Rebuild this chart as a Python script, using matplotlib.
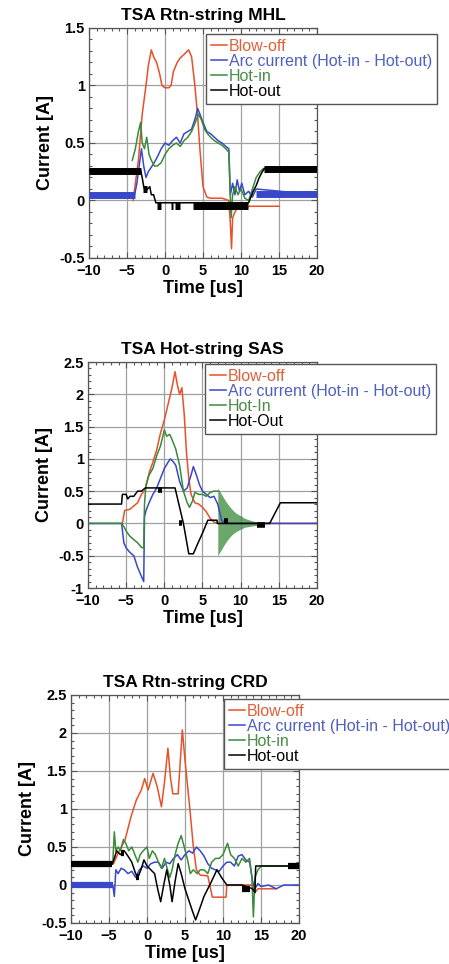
import matplotlib.pyplot as plt
from matplotlib.ticker import MultipleLocator, FuncFormatter

# ---------------- data ----------------
# Panel 1: TSA Rtn-string MHL
mhl_blow_t = [-4.2, -3.5, -3.0, -2.5, -2.2, -1.8, -1.5, -1.1, -0.7, -0.4, 0.0, 0.5, 0.8, 1.1, 1.6, 2.0, 2.5,
              3.1, 3.5, 3.9, 4.3, 4.6, 5.0, 5.5, 6.0, 7.5, 8.4, 8.6, 8.75, 8.9, 9.2, 9.6, 10.0, 10.5, 11.0, 12.0, 15.0]
mhl_blow_y = [0.0, 0.35, 0.75, 1.0, 1.17, 1.31, 1.25, 1.2, 1.1, 1.0, 0.98, 0.98, 1.0, 1.12, 1.2, 1.24, 1.27,
              1.31, 1.25, 1.02, 0.73, 0.44, 0.12, 0.03, 0.02, 0.02, 0.0, -0.2, -0.42, -0.15, -0.1, -0.06, -0.04,
              -0.07, -0.05, -0.05, -0.05]
mhl_arc_t = [-10, -4.0, -3.7, -3.4, -3.1, -2.8, -2.5, -2.2, -1.9, -1.5, -1.0, -0.5, 0.0, 0.5, 1.0, 1.5, 2.0, 2.5,
             3.0, 3.5, 4.0, 4.3, 4.6, 5.0, 5.5, 6.0, 6.5, 7.0, 7.5, 8.0, 8.4, 8.6, 8.9, 9.2, 9.5, 9.8, 10.1, 10.5,
             11.0, 11.5, 12.0, 20.0]
mhl_arc_y = [0.05, 0.05, 0.15, 0.3, 0.45, 0.3, 0.2, 0.25, 0.28, 0.32, 0.38, 0.45, 0.5, 0.48, 0.52, 0.55, 0.5, 0.58,
             0.6, 0.62, 0.72, 0.8, 0.75, 0.68, 0.6, 0.58, 0.55, 0.52, 0.5, 0.47, 0.45, 0.05, 0.15, 0.05, 0.18, 0.08,
             0.15, 0.05, 0.08, 0.03, 0.1, 0.05]
mhl_in_t = [-4.3, -3.9, -3.5, -3.2, -3.0, -2.7, -2.4, -2.1, -1.8, -1.4, -1.0, -0.5, 0.0, 0.5, 1.0, 1.5, 2.0, 2.5,
            3.0, 3.5, 4.0, 4.4, 4.8, 5.2, 5.6, 6.0, 6.5, 7.0, 7.5, 8.0, 8.4, 8.55, 8.7, 8.9, 9.2, 9.6, 10.0, 10.5,
            11.0, 11.5, 12.0, 12.5, 13.0, 13.3, 20.0]
mhl_in_y = [0.35, 0.45, 0.6, 0.68, 0.5, 0.45, 0.55, 0.4, 0.35, 0.3, 0.3, 0.33, 0.4, 0.45, 0.48, 0.5, 0.47, 0.52,
            0.55, 0.6, 0.68, 0.75, 0.7, 0.62, 0.58, 0.55, 0.52, 0.5, 0.48, 0.45, 0.42, 0.1, -0.15, 0.05, 0.12, 0.05,
            0.1, 0.02, 0.0, 0.1, 0.2, 0.25, 0.28, 0.27, 0.27]
mhl_out_t = [-10, -3.2, -3.0, -2.8, -2.6, -2.3, -2.0, -1.8, -1.5, -1.2, 11.0, 11.3, 11.6, 12.0, 12.4, 12.8, 13.1, 20.0]
mhl_out_y = [0.26, 0.26, 0.2, 0.12, 0.08, 0.1, 0.12, 0.05, 0.05, -0.02, -0.02, 0.03, 0.08, 0.13, 0.2, 0.25, 0.28, 0.28]
# noisy stretches that show as solid bars: (t start, t end, level)
mhl_arc_bars = [(-10, -4.0, 0.05), (12.0, 20.0, 0.06)]
mhl_out_bars = [(-10, -3.2, 0.26), (-2.9, -2.4, 0.1), (-1.0, -0.5, -0.05), (0.8, 1.1, -0.05),
                (1.3, 2.0, -0.05), (3.7, 10.9, -0.05), (13.0, 20.0, 0.27)]

# Panel 2: TSA Hot-string SAS
sas_blow_t = [-5.5, -5.2, -4.5, -4.0, -3.5, -3.0, -2.5, -2.0, -1.5, -1.0, -0.5, 0.0, 0.5, 1.0, 1.4, 1.7, 2.0, 2.3,
              2.6, 2.9, 3.2, 3.5, 4.0, 4.5, 5.0, 5.5, 6.0, 6.5, 7.0, 20.0]
sas_blow_y = [0.0, 0.2, 0.22, 0.27, 0.32, 0.45, 0.52, 0.78, 0.95, 1.14, 1.4, 1.6, 1.85, 2.1, 2.35, 2.15, 2.0, 2.1,
              1.7, 1.1, 0.7, 0.45, 0.32, 0.3, 0.25, 0.18, 0.08, 0.02, 0.0, 0.0]
sas_arc_t = [-10, -5.6, -5.3, -5.0, -4.5, -4.0, -3.5, -3.0, -2.7, -2.6, -2.4, -2.0, -1.5, -1.0, -0.5, 0.0, 0.5,
             0.8, 1.2, 1.5, 2.0, 2.5, 3.0, 3.5, 3.8, 4.2, 4.6, 5.0, 5.5, 6.0, 6.5, 7.0, 7.5, 8.0, 20.0]
sas_arc_y = [0.0, 0.0, -0.3, -0.38, -0.45, -0.5, -0.68, -0.82, -0.9, 0.1, 0.2, 0.32, 0.45, 0.55, 0.7, 0.85, 0.95,
             1.0, 0.95, 0.9, 0.65, 0.5, 0.55, 0.75, 0.88, 0.75, 0.6, 0.5, 0.45, 0.4, 0.42, 0.3, 0.05, 0.0, 0.0]
sas_in_t = [-10, -5.6, -5.3, -5.0, -4.5, -4.0, -3.5, -3.0, -2.7, -2.6, -2.4, -2.0, -1.5, -1.0, -0.5, 0.0, 0.3,
            0.7, 1.0, 1.5, 2.0, 2.5, 3.0, 3.3, 3.7, 4.0, 4.5, 5.0, 5.5, 6.0, 6.5, 7.0]
sas_in_y = [0.0, 0.0, -0.05, -0.12, -0.2, -0.25, -0.3, -0.37, -0.38, 0.3, 0.6, 0.75, 0.85, 1.05, 1.2, 1.45, 1.35,
            1.38, 1.3, 1.15, 0.9, 0.5, 0.32, 0.25, 0.35, 0.48, 0.45, 0.45, 0.42, 0.48, 0.5, 0.5]
# ringing of Hot-In after 7 us: envelope (t, upper, lower)
sas_ring_t = [7.0, 7.5, 8.0, 8.5, 9.0, 9.5, 10.0, 10.5, 11.0, 11.5, 12.0, 13.0]
sas_ring_hi = [0.55, 0.45, 0.35, 0.27, 0.2, 0.15, 0.12, 0.08, 0.06, 0.04, 0.03, 0.02]
sas_ring_lo = [-0.5, -0.4, -0.3, -0.22, -0.16, -0.12, -0.09, -0.06, -0.05, -0.04, -0.03, -0.02]
sas_out_t = [-10, -5.6, -5.5, -5.0, -4.8, -4.5, -4.0, -3.5, -3.0, -2.5, 1.4, 2.0, 2.5, 3.2, 3.8, 4.5, 5.0, 5.7,
             6.9, 6.95, 13.8, 15.2, 20.0]
sas_out_y = [0.3, 0.3, 0.45, 0.45, 0.38, 0.42, 0.42, 0.5, 0.5, 0.55, 0.55, 0.25, 0.0, -0.47, -0.47, -0.28, -0.15,
             0.05, 0.05, 0.0, 0.0, 0.32, 0.32]
sas_arc_bars = []
sas_out_bars = [(-0.8, -0.3, 0.52), (1.9, 2.3, 0.0), (7.8, 8.4, 0.03), (12.2, 13.2, -0.03)]

# Panel 3: TSA Rtn-string CRD
crd_blow_t = [-4.4, -3.8, -2.9, -2.1, -1.4, -0.75, -0.3, 0.15, 0.8, 1.35, 1.9, 2.3, 2.75, 3.1, 3.4, 4.1, 4.65,
              5.0, 5.65, 6.1, 6.5, 7.0, 8.0, 8.6, 10.4, 10.5, 14.0, 14.2, 14.6, 17.0]
crd_blow_y = [0.28, 0.42, 0.59, 0.9, 1.12, 1.25, 1.4, 1.25, 1.47, 1.29, 1.03, 1.35, 1.8, 1.4, 1.2, 1.2, 2.04,
              1.64, 0.99, 0.5, 0.2, 0.13, 0.12, -0.16, -0.16, 0.0, 0.0, -0.1, -0.05, -0.05]
crd_arc_t = [-10, -4.5, -4.3, -4.1, -3.8, -3.4, -3.0, -2.5, -2.0, -1.5, -1.0, -0.5, 0.0, 0.5, 1.0, 1.5, 2.0, 2.5,
             3.0, 3.5, 4.0, 4.5, 5.0, 5.5, 6.0, 6.5, 7.0, 7.5, 8.0, 8.5, 9.0, 9.5, 10.0, 10.5, 11.0, 11.5, 12.0,
             12.5, 13.0, 13.5, 13.9, 14.2, 14.6, 15.0, 16.0, 17.0, 18.0, 20.0]
crd_arc_y = [0.0, 0.0, -0.15, 0.2, 0.15, 0.22, 0.2, 0.15, 0.18, 0.1, 0.2, 0.25, 0.22, 0.28, 0.3, 0.3, 0.22, 0.3,
             0.28, 0.35, 0.4, 0.33, 0.4, 0.45, 0.42, 0.5, 0.45, 0.38, 0.28, 0.22, 0.2, 0.18, 0.25, 0.3, 0.3, 0.25,
             0.38, 0.4, 0.33, 0.3, 0.05, -0.05, 0.02, -0.02, 0.0, -0.05, 0.0, 0.0]
crd_in_t = [-4.5, -4.3, -4.1, -3.8, -3.5, -3.1, -2.8, -2.4, -2.0, -1.6, -1.2, -0.9, -0.5, 0.0, 0.3, 0.7, 1.1, 1.5,
            1.9, 2.3, 2.7, 3.0, 3.3, 3.7, 4.1, 4.5, 4.9, 5.3, 5.7, 6.1, 6.6, 7.0, 7.5, 8.0, 8.5, 9.0, 9.5, 10.0,
            10.6, 11.0, 11.5, 12.0, 12.5, 13.0, 13.5, 13.8, 14.0, 14.2, 14.6, 15.0, 20.0]
crd_in_y = [0.3, 0.7, 0.45, 0.5, 0.45, 0.6, 0.55, 0.45, 0.5, 0.4, 0.3, 0.4, 0.45, 0.5, 0.35, 0.45, 0.4, 0.3, 0.22,
            0.35, 0.2, 0.1, 0.2, 0.4, 0.55, 0.65, 0.5, 0.35, 0.15, 0.2, 0.15, 0.2, 0.2, 0.15, 0.3, 0.35, 0.35, 0.4,
            0.55, 0.4, 0.35, 0.25, 0.35, 0.3, 0.35, 0.1, -0.42, 0.1, 0.2, 0.25, 0.25]
crd_out_t = [-10, -4.6, -4.3, -4.0, -3.5, -3.0, -2.5, -2.0, -1.5, -1.2, -0.8, -0.4, 0.0, 0.5, 1.0, 1.4, 1.8, 2.2,
             2.6, 3.0, 3.3, 3.7, 4.1, 4.5, 5.0, 5.5, 6.0, 6.4, 6.8, 7.5, 8.5, 9.2, 9.8, 10.5, 12.5, 13.9, 14.2, 14.3,
             20.0]
crd_out_y = [0.27, 0.27, 0.35, 0.45, 0.4, 0.45, 0.38, 0.3, 0.15, 0.1, 0.2, 0.33, 0.25, 0.2, 0.15, -0.05, -0.22, 0.0,
             0.2, 0.0, -0.22, 0.05, 0.28, 0.15, -0.05, -0.2, -0.35, -0.46, -0.35, -0.15, 0.05, 0.2, 0.1, 0.0, 0.0,
             -0.05, -0.1, 0.25, 0.25]
crd_arc_bars = [(-10, -4.5, 0.0)]
crd_out_bars = [(-10, -4.6, 0.27), (-3.4, -3.0, 0.42), (-1.4, -1.0, 0.1), (12.5, 13.5, -0.05), (18.5, 20.0, 0.25)]

labels_1 = ['Blow-off', 'Arc current (Hot-in - Hot-out)', 'Hot-in', 'Hot-out']
labels_2 = ['Blow-off', 'Arc current (Hot-in - Hot-out)', 'Hot-In', 'Hot-Out']

RED = '#e8502a'
BLUE = '#3848c8'
GREEN = '#3a8a3a'
BLACK = '#000000'
TEXT_COLORS = ['#e0603a', '#5060c0', '#4a8a4a', '#000000']

plt.rcParams['font.family'] = ['Liberation Sans', 'DejaVu Sans']
plt.rcParams['font.weight'] = 'bold'

fig = plt.figure(figsize=(4.49, 9.64), dpi=100)


def draw_panel(rect, title, ylim, blow, arc, hin, hout, arc_bars, out_bars, labels, leg_anchor, bar_lw,
               ring=None):
    ax = fig.add_axes(rect)
    l1, = ax.plot(blow[0], blow[1], color=RED, lw=1.1, zorder=3)
    if ring is not None:
        ax.fill_between(ring[0], ring[1], ring[2], color=GREEN, alpha=0.75, lw=0, zorder=3)
    l2, = ax.plot(arc[0], arc[1], color=BLUE, lw=1.1, zorder=4)
    l3, = ax.plot(hin[0], hin[1], color=GREEN, lw=1.1, zorder=5)
    l4, = ax.plot(hout[0], hout[1], color=BLACK, lw=1.1, zorder=6)
    for t0, t1, lev in arc_bars:
        ax.plot([t0, t1], [lev, lev], color=BLUE, lw=bar_lw, solid_capstyle='butt', zorder=4)
    for t0, t1, lev in out_bars:
        ax.plot([t0, t1], [lev, lev], color=BLACK, lw=bar_lw, solid_capstyle='butt', zorder=6)

    ax.set_xlim(-10, 20)
    ax.set_ylim(*ylim)
    ax.xaxis.set_major_locator(MultipleLocator(5))
    ax.xaxis.set_minor_locator(MultipleLocator(1))
    ax.yaxis.set_major_locator(MultipleLocator(0.5))
    ax.yaxis.set_minor_locator(MultipleLocator(0.1))
    ax.yaxis.set_major_formatter(FuncFormatter(lambda v, p: '%g' % v))
    ax.tick_params(which='both', direction='in', top=True, right=True, width=0.8, color='#555555')
    ax.tick_params(which='major', length=4, labelsize=10.5)
    ax.tick_params(axis='x', which='major', pad=4.5)
    ax.tick_params(axis='y', which='major', pad=3)
    ax.tick_params(which='minor', length=2.5)
    ax.grid(True, which='major', color='#a0a0a0', lw=0.9)
    for sp in ax.spines.values():
        sp.set_color('#555555')
        sp.set_linewidth(0.9)
    ax.set_title(title, fontsize=12.5, fontweight='bold', pad=6)
    ax.set_xlabel('Time [us]', fontsize=13, fontweight='bold', labelpad=1)
    ax.set_ylabel('Current [A]', fontsize=13, fontweight='bold', labelpad=4)

    leg = fig.legend([l1, l2, l3, l4], labels, loc='upper left', bbox_to_anchor=leg_anchor,
                     bbox_transform=fig.transFigure, prop={'size': 11.5, 'weight': 'normal'},
                     frameon=True, fancybox=False, edgecolor='#555555', framealpha=1,
                     handlelength=1.0, handletextpad=0.15, labelspacing=0.0, borderpad=0.3,
                     borderaxespad=0)
    leg.get_frame().set_linewidth(1.0)
    for txt, c in zip(leg.get_texts(), TEXT_COLORS):
        txt.set_color(c)
    return ax


draw_panel([89 / 449, 1 - 258 / 964, 228 / 449, 230 / 964], 'TSA Rtn-string MHL', (-0.5, 1.5),
           (mhl_blow_t, mhl_blow_y), (mhl_arc_t, mhl_arc_y), (mhl_in_t, mhl_in_y), (mhl_out_t, mhl_out_y),
           mhl_arc_bars, mhl_out_bars, labels_1, (206 / 449, 1 - 34 / 964), 5)

draw_panel([88 / 449, 1 - 588 / 964, 229 / 449, 226 / 964], 'TSA Hot-string SAS', (-1, 2.5),
           (sas_blow_t, sas_blow_y), (sas_arc_t, sas_arc_y), (sas_in_t, sas_in_y), (sas_out_t, sas_out_y),
           sas_arc_bars, sas_out_bars, labels_2, (205 / 449, 1 - 364 / 964), 4,
           ring=(sas_ring_t, sas_ring_hi, sas_ring_lo))

draw_panel([71 / 449, 1 - 923 / 964, 228 / 449, 228 / 964], 'TSA Rtn-string CRD', (-0.5, 2.5),
           (crd_blow_t, crd_blow_y), (crd_arc_t, crd_arc_y), (crd_in_t, crd_in_y), (crd_out_t, crd_out_y),
           crd_arc_bars, crd_out_bars, labels_1, (224 / 449, 1 - 699 / 964), 4.5)

fig.savefig('out.png', dpi=100)
